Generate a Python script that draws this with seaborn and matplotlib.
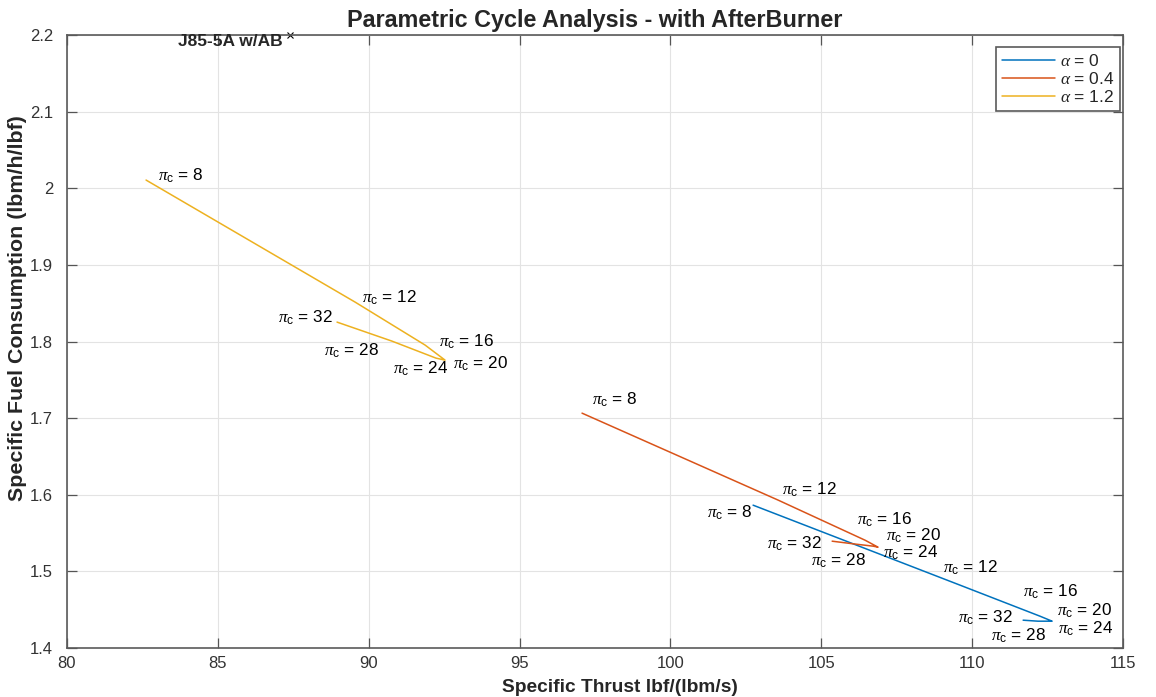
import matplotlib
matplotlib.use("Agg")
import matplotlib.pyplot as plt
import seaborn as sns
import pandas as pd

# ---- data ----
pi_c = [8, 12, 16, 20, 24, 28, 32]

thrust_a0 = [102.74, 109.60, 112.25, 112.65, 112.52, 112.18, 111.69]
tsfc_a0 = [1.5864, 1.4820, 1.4415, 1.4350, 1.4350, 1.4350, 1.4363]

thrust_a04 = [97.07, 103.57, 106.45, 106.88, 106.72, 106.15, 105.36]
tsfc_a04 = [1.7065, 1.5930, 1.5407, 1.5316, 1.5329, 1.5355, 1.5394]

thrust_a12 = [82.62, 89.55, 91.87, 92.53, 92.23, 90.77, 88.95]
tsfc_a12 = [2.0107, 1.8514, 1.7953, 1.7757, 1.7783, 1.8005, 1.8253]

alphas = ["0", "0.4", "1.2"]
x_ticks = [80, 85, 90, 95, 100, 105, 110, 115]
y_ticks = [1.4, 1.5, 1.6, 1.7, 1.8, 1.9, 2.0, 2.1, 2.2]
y_ticklabels = ["1.4", "1.5", "1.6", "1.7", "1.8", "1.9", "2", "2.1", "2.2"]

# label offsets in pixels (layout only)
offs_a0 = [(-46, -12), (-17, 13), (-17, 20), (5, 6), (10, -12), (-47, -19), (-65, -2)]
offs_a04 = [(10, 9), (4, 6), (-8, 16), (8, 7), (10, -11), (-45, -21), (-65, -7)]
offs_a12 = [(12, -1), (7, 0), (14, -1), (8, -8), (-43, -15), (-68, -14), (-59, 0)]

colors = ["#0072BD", "#D95319", "#EDB120"]

rows = []
for a, xs, ys in zip(alphas, [thrust_a0, thrust_a04, thrust_a12], [tsfc_a0, tsfc_a04, tsfc_a12]):
    for p, x, y in zip(pi_c, xs, ys):
        rows.append({"alpha": a, "pi": p, "thrust": x, "tsfc": y})
df = pd.DataFrame(rows)

sns.set_theme(style="whitegrid")
plt.rcParams["font.family"] = ["Liberation Sans", "DejaVu Sans"]
plt.rcParams["mathtext.fontset"] = "custom"
plt.rcParams["mathtext.rm"] = "Liberation Sans"
plt.rcParams["mathtext.it"] = "Liberation Serif:italic"
plt.rcParams["mathtext.sf"] = "Liberation Sans"

fig = plt.figure(figsize=(11.56, 6.97), dpi=100)
ax = fig.add_axes([67 / 1156, 1 - 648 / 697, (1123 - 67) / 1156, (648 - 35) / 697])

sns.lineplot(data=df, x="thrust", y="tsfc", hue="alpha", hue_order=alphas,
             palette=colors, sort=False, estimator=None, units="alpha",
             linewidth=1.1, ax=ax, legend=True)

for xs, ys, offs in zip([thrust_a0, thrust_a04, thrust_a12], [tsfc_a0, tsfc_a04, tsfc_a12],
                        [offs_a0, offs_a04, offs_a12]):
    for p, x, y, (dx, dy) in zip(pi_c, xs, ys, offs):
        ax.annotate(r"$\pi_\mathrm{c}$ = %d" % p, xy=(x, y), xytext=(dx, dy),
                    textcoords="offset pixels", ha="left", va="baseline",
                    fontsize=12.3, color="black")

ax.set_xlim(80, 115)
ax.set_ylim(1.4, 2.2)
ax.set_xticks(x_ticks)
ax.set_yticks(y_ticks)
ax.set_xticklabels([str(t) for t in x_ticks])
ax.set_yticklabels(y_ticklabels)
ax.tick_params(axis="both", direction="in", length=7, width=0.9, labelsize=12,
               colors="#555555", labelcolor="#333333",
               top=True, right=True, bottom=True, left=True)
ax.tick_params(axis="y", pad=10)
ax.tick_params(axis="x", pad=6)
ax.grid(True, color="#e3e3e3", linewidth=0.8)
for s in ax.spines.values():
    s.set_color("#5a5a5a")
    s.set_linewidth(1.2)

ax.set_title("Parametric Cycle Analysis - with AfterBurner", fontsize=16.8,
             fontweight="bold", pad=6)
ax.set_xlabel("Specific Thrust lbf/(lbm/s)", fontsize=13.8, fontweight="bold")
ax.xaxis.set_label_coords((620 - 67) / 1056, -(688 - 648) / 613)
ax.xaxis.label.set_va("center")
ax.set_ylabel("Specific Fuel Consumption (lbm/h/lbf)", fontsize=15.4, fontweight="bold")
ax.yaxis.set_label_coords((18 - 67) / 1056, (648 - 308) / 613)
ax.yaxis.label.set_va("center")

ax.text(83.68, 2.191, "J85-5A w/AB", fontsize=12.5, fontweight="bold", va="center", ha="left")
ax.plot([87.4], [2.2], marker="x", markersize=4, color="black", markeredgewidth=0.8,
        clip_on=False, linestyle="none")

handles, _ = ax.get_legend_handles_labels()
leg = ax.legend(handles[:3], [r"$\alpha$ = 0", r"$\alpha$ = 0.4", r"$\alpha$ = 1.2"],
                loc="upper right", fontsize=12.5, frameon=True, fancybox=False,
                handlelength=3.0, handletextpad=0.3, borderpad=0.35, labelspacing=0.1,
                borderaxespad=0, bbox_to_anchor=(0.9975, 0.98))
leg.get_frame().set_edgecolor("#5a5a5a")
leg.get_frame().set_linewidth(1.2)
leg.get_frame().set_alpha(1.0)

fig.savefig("out.png", dpi=100)
